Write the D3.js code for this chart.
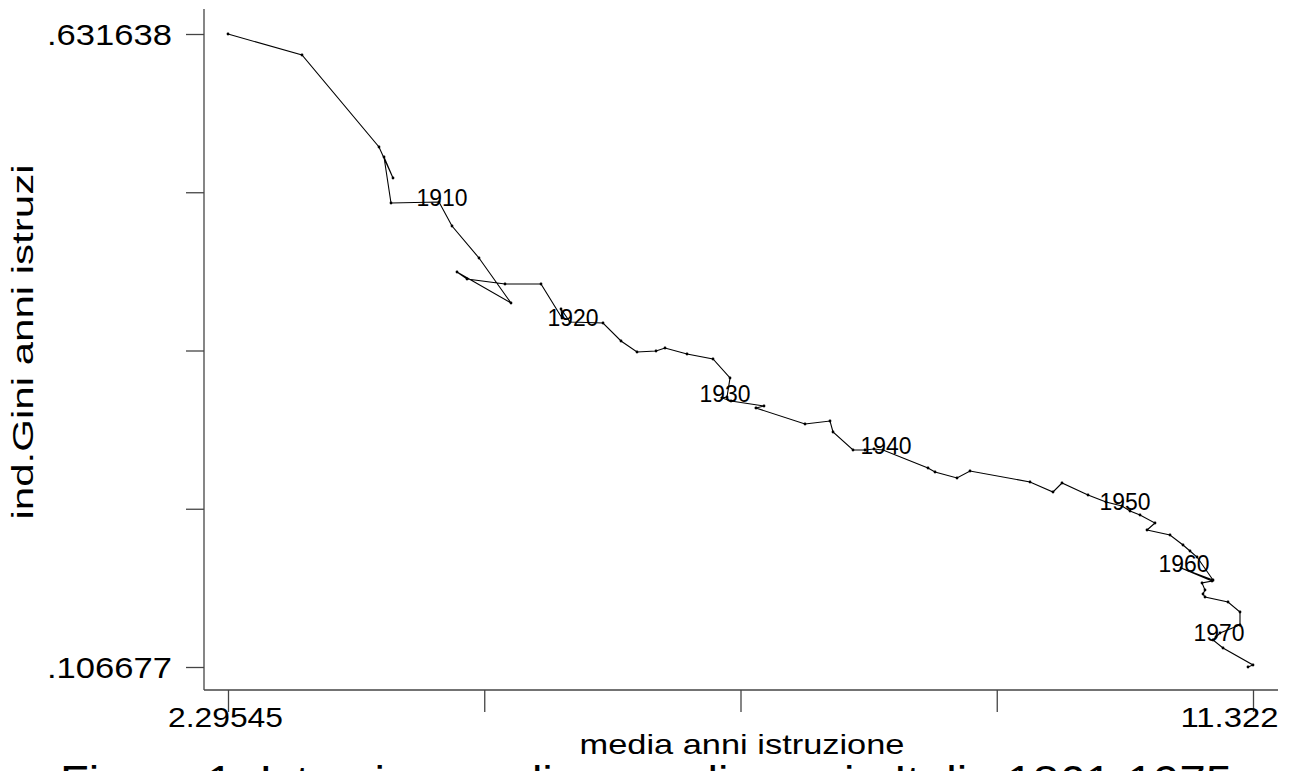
<!DOCTYPE html>
<html>
<head>
<meta charset="utf-8">
<script src="https://cdn.jsdelivr.net/npm/d3@7"></script>
<style>
  html, body { margin: 0; padding: 0; background: #fff; overflow: hidden; }
  svg { display: block; }
  text { font-family: "Liberation Sans", Arial, Helvetica, sans-serif; fill: #000; }
</style>
</head>
<body>
<script>
// ---- data ----
const years = [1861, 1871, 1881, 1901, 1905, 1909,
  1910, 1911, 1912, 1913, 1914, 1915, 1916, 1917, 1918, 1919,
  1920, 1921, 1922, 1923, 1924, 1925, 1926, 1927, 1928, 1929,
  1930, 1931, 1932, 1933, 1934, 1935, 1936, 1937, 1938, 1939,
  1940, 1941, 1942, 1943, 1944, 1945, 1946, 1947, 1948, 1949,
  1950, 1951, 1952, 1953, 1954, 1955, 1956, 1957, 1958, 1959,
  1960, 1961, 1962, 1963, 1964, 1965, 1966, 1967, 1968, 1969,
  1970, 1971, 1972, 1973, 1974];
const mediaAnni = [2.29545, 2.9471, 3.6252, 3.7485, 3.6693, 3.7309,
  4.1536, 4.2681, 4.5059, 4.7877, 4.3121, 4.4002, 4.7348, 5.0519, 5.2368, 5.2280,
  5.3072, 5.5979, 5.7564, 5.8973, 6.0646, 6.1439, 6.3376, 6.5666, 6.7163, 6.6898,
  6.6458, 6.7251, 7.0157, 6.9452, 7.3767, 7.5969, 7.6233, 7.7995, 7.9051, 7.9844,
  8.0636, 8.4599, 8.5216, 8.7153, 8.8298, 9.3582, 9.5607, 9.6400, 9.8690, 10.0275,
  10.1684, 10.2388, 10.3269, 10.4590, 10.3885, 10.5911, 10.7056, 10.7672, 10.8289, 10.9698,
  10.6880, 10.9610, 10.8729, 10.8993, 10.8817, 10.8993, 11.1019, 11.2075, 11.2075, 11.0314,
  10.9962, 10.9698, 11.0578, 11.322, 11.2780];
const giniAnni = [0.631638, 0.61422, 0.53793, 0.51222, 0.52963, 0.49148,
  0.49231, 0.47241, 0.44587, 0.40855, 0.43426, 0.42846, 0.42431, 0.42431, 0.39611, 0.40358,
  0.39279, 0.39197, 0.37704, 0.36791, 0.36874, 0.37123, 0.36626, 0.36211, 0.34635, 0.33060,
  0.32977, 0.32728, 0.32313, 0.32147, 0.30820, 0.31069, 0.30157, 0.28664, 0.28664, 0.28747,
  0.28664, 0.27171, 0.26840, 0.26342, 0.26923, 0.26010, 0.25181, 0.25927, 0.24932, 0.24352,
  0.24020, 0.23605, 0.23274, 0.22610, 0.22030, 0.21615, 0.20786, 0.20288, 0.19790, 0.17883,
  0.18878, 0.17800, 0.17634, 0.17054, 0.16722, 0.16473, 0.16058, 0.15229, 0.14151, 0.13488,
  0.13156, 0.12907, 0.12244, 0.10834, 0.106677];

const xMin = 2.29545, xMax = 11.322;
const yMin = 0.106677, yMax = 0.631638;
const xTickLabels = ["2.29545", "", "", "", "11.322"];
const yTickLabels = [".106677", "", "", "", ".631638"];
const xTitle = "media anni istruzione";
const yTitle = "ind.Gini anni istruzi";
const figTitle = "Figura 1: Istruzione e disuguaglianza in Italia 1861-1975";

// ---- layout ----
const W = 1292, H = 771;
const frame = { left: 204, right: 1278, top: 9, bottom: 690 };

const svg = d3.select("body").append("svg").attr("width", W).attr("height", H);

const x = d3.scaleLinear().domain([xMin, xMax]).range([228, 1253]);
const y = d3.scaleLinear().domain([yMin, yMax]).range([667, 34]);

const xTicks = d3.range(5).map(i => xMin + i * (xMax - xMin) / 4);
const yTicks = d3.range(5).map(i => yMin + i * (yMax - yMin) / 4);

// axis lines
svg.append("line")
  .attr("x1", frame.left).attr("x2", frame.left)
  .attr("y1", frame.top).attr("y2", frame.bottom)
  .attr("stroke", "#444").attr("stroke-width", 1.3);
svg.append("line")
  .attr("x1", frame.left).attr("x2", frame.right)
  .attr("y1", frame.bottom).attr("y2", frame.bottom)
  .attr("stroke", "#444").attr("stroke-width", 1.3);

// y axis
const gy = svg.append("g").attr("transform", `translate(${frame.left},0)`)
  .call(d3.axisLeft(y).tickValues(yTicks).tickSize(18).tickSizeOuter(0).tickPadding(14)
    .tickFormat((d, i) => yTickLabels[i]));
gy.select(".domain").remove();
gy.selectAll(".tick line").attr("stroke", "#444").attr("stroke-width", 1.3);
gy.selectAll(".tick text")
  .style("font-size", "30px")
  .attr("font-family", null)
  .attr("dy", "0.36em")
  .each(function () { if (this.textContent) { d3.select(this).attr("textLength", 125).attr("lengthAdjust", "spacingAndGlyphs"); } });

// x axis
const gx = svg.append("g").attr("transform", `translate(0,${frame.bottom})`)
  .call(d3.axisBottom(x).tickValues(xTicks).tickSize(22).tickSizeOuter(0).tickPadding(-5)
    .tickFormat((d, i) => xTickLabels[i]));
gx.select(".domain").remove();
gx.selectAll(".tick line").attr("stroke", "#444").attr("stroke-width", 1.3);
gx.selectAll(".tick text")
  .style("font-size", "28px")
  .attr("font-family", null)
  .attr("dy", "0.71em")
  .each(function (d, i) {
    const t = d3.select(this);
    if (i === 0) { t.attr("x", -3).attr("textLength", 115).attr("lengthAdjust", "spacingAndGlyphs"); }
    if (i === 4) { t.attr("text-anchor", "end").attr("x", 25).attr("textLength", 98).attr("lengthAdjust", "spacingAndGlyphs"); }
  });

// axis titles
svg.append("text")
  .attr("x", 742).attr("y", 754)
  .attr("text-anchor", "middle")
  .style("font-size", "28px")
  .attr("textLength", 325).attr("lengthAdjust", "spacingAndGlyphs")
  .text(xTitle);

svg.append("text")
  .attr("transform", `translate(33,342) rotate(-90)`)
  .attr("text-anchor", "middle")
  .style("font-size", "30px")
  .attr("textLength", 355).attr("lengthAdjust", "spacingAndGlyphs")
  .text(yTitle);

// figure title (clipped at bottom as in the original)
svg.append("text")
  .attr("x", 60).attr("y", 797)
  .style("font-size", "44px")
  .attr("textLength", 1172).attr("lengthAdjust", "spacingAndGlyphs")
  .text(figTitle);

// data
const data = years.map((yr, i) => ({ year: yr, mx: mediaAnni[i], g: giniAnni[i] }));

svg.append("path")
  .datum(data)
  .attr("fill", "none")
  .attr("stroke", "#000")
  .attr("stroke-width", 1.1)
  .attr("d", d3.line().x(d => x(d.mx)).y(d => y(d.g)));

svg.append("g").selectAll("circle")
  .data(data)
  .join("circle")
  .attr("cx", d => x(d.mx)).attr("cy", d => y(d.g))
  .attr("r", 1.4)
  .attr("fill", "#000");

svg.append("g").selectAll("text")
  .data(data.filter(d => d.year >= 1910 && d.year % 10 === 0))
  .join("text")
  .attr("x", d => x(d.mx) + 3)
  .attr("y", d => y(d.g) + 4)
  .attr("text-anchor", "middle")
  .style("font-size", "23px")
  .attr("textLength", 51).attr("lengthAdjust", "spacingAndGlyphs")
  .text(d => d.year);
</script>
</body>
</html>
